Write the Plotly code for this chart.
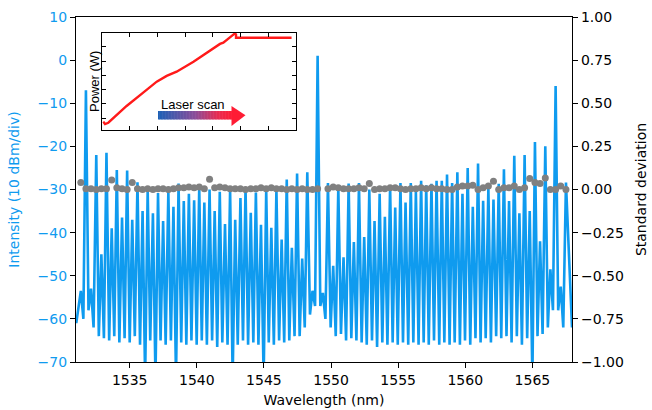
import plotly.graph_objects as go

# ---------------- data ----------------
# comb-line positions (nm) and peak intensities (dBm)
peak_nm = [
    1531.36, 1531.74, 1532.12, 1532.51, 1532.89, 1533.27, 1533.66, 1534.04, 1534.43, 1534.81,
    1535.19, 1535.58, 1535.96, 1536.34, 1536.73, 1537.11, 1537.49, 1537.88, 1538.26, 1538.64,
    1539.03, 1539.41, 1539.80, 1540.18, 1540.56, 1540.95, 1541.33, 1541.71, 1542.10, 1542.48,
    1542.86, 1543.25, 1543.63, 1544.02, 1544.40, 1544.78, 1545.17, 1545.55, 1545.93, 1546.32,
    1546.70, 1547.08, 1547.47, 1547.85, 1548.23, 1548.62, 1549.00, 1549.39, 1549.77, 1550.16,
    1550.54, 1550.93, 1551.31, 1551.70, 1552.08, 1552.47, 1552.85, 1553.24, 1553.62, 1554.01,
    1554.40, 1554.78, 1555.17, 1555.55, 1555.94, 1556.32, 1556.71, 1557.09, 1557.48, 1557.86,
    1558.25, 1558.64, 1559.02, 1559.41, 1559.79, 1560.18, 1560.56, 1560.95, 1561.33, 1561.72,
    1562.10, 1562.49, 1562.88, 1563.26, 1563.65, 1564.03, 1564.42, 1564.80, 1565.19, 1565.57,
    1565.96, 1566.34, 1566.73, 1567.11, 1567.50,
]
peak_db = [
    -53.5, -7.0, -53.0, -22.0, -45.0, -21.5, -39.0, -25.5, -36.5, -25.6,
    -37.0, -28.3, -35.0, -30.0, -35.5, -30.8, -37.3, -30.4, -34.0, -28.6,
    -32.7, -31.0, -32.5, -29.5, -33.0, -30.0, -35.0, -30.5, -38.0, -30.0,
    -37.0, -32.0, -29.6, -35.4, -30.7, -38.2, -30.0, -38.9, -30.0, -41.6,
    -27.7, -43.5, -26.3, -46.0, -26.0, -53.5, 1.0, -54.0, -28.5, -47.7,
    -29.5, -45.7, -28.6, -42.2, -28.5, -41.0, -30.0, -37.3, -31.0, -36.3,
    -29.0, -34.2, -28.5, -33.0, -28.5, -30.5, -28.0, -29.0, -28.7, -28.0,
    -28.0, -26.5, -28.5, -26.0, -31.0, -25.0, -34.0, -24.0, -32.6, -29.6,
    -32.3, -28.7, -25.3, -32.7, -22.2, -35.5, -22.0, -35.0, -19.0, -42.0,
    -20.0, -48.5, -6.0, -52.5, -28.4,
]
# floor between the lines (nm, dBm)
valley_nm = [
    1531.02,
    1531.55, 1531.93, 1532.31, 1532.70, 1533.08, 1533.47, 1533.85, 1534.23, 1534.62, 1535.00,
    1535.38, 1535.77, 1536.15, 1536.53, 1536.92, 1537.30, 1537.68, 1538.07, 1538.45, 1538.84,
    1539.22, 1539.60, 1539.99, 1540.37, 1540.75, 1541.14, 1541.52, 1541.90, 1542.29, 1542.67,
    1543.05, 1543.44, 1543.82, 1544.21, 1544.59, 1544.98, 1545.36, 1545.74, 1546.13, 1546.51,
    1546.89, 1547.28, 1547.66, 1548.04, 1548.43, 1548.81, 1549.20, 1549.58, 1549.97, 1550.35,
    1550.74, 1551.12, 1551.51, 1551.89, 1552.28, 1552.66, 1553.05, 1553.43, 1553.82, 1554.20,
    1554.59, 1554.97, 1555.36, 1555.75, 1556.13, 1556.52, 1556.90, 1557.28, 1557.67, 1558.06,
    1558.44, 1558.83, 1559.21, 1559.60, 1559.98, 1560.37, 1560.76, 1561.14, 1561.52, 1561.91,
    1562.30, 1562.68, 1563.07, 1563.45, 1563.84, 1564.22, 1564.61, 1565.00, 1565.38, 1565.76,
    1566.15, 1566.53, 1566.92, 1567.30,
    1567.95,
]
valley_db = [
    -61.0,
    -60.0, -58.0, -62.0, -64.0, -64.5, -65.0, -64.0, -65.5, -64.5, -65.5,
    -64.0, -66.0, -74.0, -65.0, -74.0, -65.0, -66.0, -65.0, -74.0, -65.5,
    -66.0, -65.0, -66.0, -65.0, -66.0, -65.0, -66.5, -65.5, -66.0, -74.0,
    -66.0, -65.0, -66.0, -65.5, -66.0, -74.0, -65.5, -66.0, -65.0, -65.5,
    -65.0, -64.0, -64.0, -62.0, -59.0, -57.0, -57.0, -60.0, -62.0, -64.0,
    -63.5, -65.0, -64.5, -65.0, -65.5, -66.0, -65.0, -66.5, -65.5, -66.0,
    -65.5, -66.0, -65.5, -66.0, -65.5, -66.0, -65.5, -66.0, -65.0, -66.0,
    -65.5, -66.0, -65.5, -66.0, -65.0, -66.0, -64.5, -65.5, -64.5, -65.5,
    -64.0, -64.5, -64.0, -65.5, -64.0, -66.0, -64.5, -74.0, -64.0, -63.5,
    -62.0, -58.0, -58.0, -62.0,
    -62.0,
]
# standard deviation of each comb line
std_val = [
    0.04, 0.005, 0.005, 0.0, 0.005, 0.005, 0.055, 0.01, 0.005, 0.0,
    0.04, 0.005, 0.0, 0.005, 0.0, 0.005, 0.005, 0.0, 0.005, 0.01,
    0.01, 0.015, 0.01, 0.015, 0.005, 0.06, 0.01, 0.015, 0.01, 0.005,
    0.005, 0.005, 0.0, 0.005, 0.005, 0.01, 0.005, 0.01, 0.005, 0.005,
    0.0, 0.005, 0.0, 0.005, 0.0, 0.0, 0.005, None, 0.005, 0.015,
    0.01, 0.005, 0.005, 0.005, 0.01, 0.005, 0.035, 0.0, 0.005, 0.005,
    0.01, 0.01, 0.005, 0.0, 0.005, 0.005, 0.01, 0.005, 0.01, 0.005,
    0.005, 0.0, 0.0, 0.015, 0.02, 0.02, 0.025, 0.0, 0.01, 0.02,
    0.048, 0.0, 0.01, 0.01, 0.02, 0.0, 0.01, 0.064, 0.04, 0.035,
    0.066, 0.0, 0.0, 0.02, 0.0,
]
# inset: power vs. laser scan (arbitrary units)
inset_scan = [0.035, 0.098, 0.217, 0.40, 0.88, 1.48, 1.97, 2.33, 2.69, 3.30, 3.90, 4.26, 4.38, 4.80, 4.84, 4.84, 6.85]
inset_power = [-0.25, -0.42, -0.33, -0.02, 0.85, 1.79, 2.56, 2.96, 3.26, 3.96, 4.78, 5.21, 5.30, 5.95, 5.88, 5.65, 5.65]

x_ticks = [1535, 1540, 1545, 1550, 1555, 1560, 1565]

# ---------------- build ----------------
BLUE = "#0f9bef"
GRAY = "#808080"
FONT = "DejaVu Sans"
FS = 14

spec_nm, spec_db = [], []
for k in range(len(peak_nm)):
    spec_nm += [valley_nm[k], peak_nm[k]]
    spec_db += [valley_db[k], peak_db[k]]
spec_nm.append(valley_nm[-1])
spec_db.append(valley_db[-1])

fig = go.Figure()
fig.add_trace(go.Scatter(x=spec_nm, y=spec_db, mode="lines",
                         line=dict(color=BLUE, width=2.6), xaxis="x", yaxis="y",
                         showlegend=False, hoverinfo="skip"))
fig.add_trace(go.Scatter(x=peak_nm, y=std_val, mode="markers",
                         marker=dict(color=GRAY, size=7), xaxis="x", yaxis="y2",
                         showlegend=False))
fig.add_trace(go.Scatter(x=inset_scan, y=inset_power, mode="lines",
                         line=dict(color="#ff1a1a", width=2.4), xaxis="x3", yaxis="y3",
                         showlegend=False))

# geometry in pixels
W, H = 652, 410
L, R, T, B = 76, 80, 17, 48
pw, ph = W - L - R, H - T - B


def px2paper_x(px):
    return (px - L) / pw


def px2paper_y(py):
    return (H - B - py) / ph


inset_x0, inset_x1 = 102.3, 295.7
inset_y0, inset_y1 = 32.7, 130.0

axis_common = dict(showgrid=False, zeroline=False, linecolor="black", linewidth=1.3,
                   ticks="outside", ticklen=5, tickwidth=1.2, tickcolor="black",
                   automargin=False)

fig.update_layout(
    width=W, height=H,
    margin=dict(l=L, r=R, t=T, b=B, autoexpand=False),
    paper_bgcolor="white", plot_bgcolor="white",
    font=dict(family=FONT, size=FS, color="black"),
    xaxis=dict(domain=[0, 1], range=[1531.0, 1567.95], tickvals=x_ticks,
               mirror=True, title=dict(text="Wavelength (nm)", standoff=8,
                                       font=dict(size=FS)), **axis_common),
    yaxis=dict(range=[-70, 10], dtick=10, tick0=0,
               tickfont=dict(color=BLUE),
               title=dict(text="Intensity (10 dBm/div)", font=dict(color=BLUE, size=FS),
                          standoff=14),
               **axis_common),
    yaxis2=dict(range=[-1, 1], dtick=0.25, tick0=0, tickformat=".2f", overlaying="y",
                side="right", anchor="x",
                title=dict(text="Standard deviation", standoff=13, font=dict(size=FS)),
                **axis_common),
    xaxis3=dict(domain=[px2paper_x(inset_x0), px2paper_x(inset_x1)], range=[0, 7],
                anchor="y3", tickvals=[1, 2, 3, 4, 5, 6], showticklabels=False,
                ticks="inside", ticklen=4, tickwidth=1, tickcolor="black",
                mirror="allticks", linecolor="black", linewidth=1.2,
                showgrid=False, zeroline=False, automargin=False),
    yaxis3=dict(domain=[px2paper_y(inset_y1), px2paper_y(inset_y0)], range=[-0.84, 6.0],
                anchor="x3", tickvals=[0, 1, 2, 3, 4, 5], showticklabels=False,
                ticks="inside", ticklen=4, tickwidth=1, tickcolor="black",
                mirror="allticks", linecolor="black", linewidth=1.2,
                showgrid=False, zeroline=False, automargin=False),
)

# inset labels
fig.add_annotation(text="Power (W)", xref="paper", yref="paper",
                   x=px2paper_x(94.5), y=px2paper_y(81.5), textangle=-90,
                   xanchor="center", yanchor="middle",
                   showarrow=False, font=dict(family="Liberation Sans", size=13, color="black"))
fig.add_annotation(text="Laser scan", xref="paper", yref="paper",
                   x=px2paper_x(193.3), y=px2paper_y(104.5),
                   xanchor="center", yanchor="middle",
                   showarrow=False, font=dict(family="Liberation Sans", size=13, color="black"))

# gradient arrow (decoration)
stops = [(0.0, (28, 96, 182)), (0.5, (140, 76, 152)), (0.8, (232, 44, 80)), (1.0, (255, 28, 52))]


def grad(t):
    for (t0, c0), (t1, c1) in zip(stops[:-1], stops[1:]):
        if t <= t1:
            f = (t - t0) / (t1 - t0)
            return "rgb(%d,%d,%d)" % tuple(round(a + (b - a) * f) for a, b in zip(c0, c1))
    return "rgb(%d,%d,%d)" % stops[-1][1]


bx0, bx1 = 158.0, 233.0
by0, by1 = 111.0, 119.5
nseg = 50
for s in range(nseg):
    xa = bx0 + (bx1 - bx0) * s / nseg
    xb = bx0 + (bx1 - bx0) * (s + 1) / nseg + 0.4
    fig.add_shape(type="rect", xref="paper", yref="paper",
                  x0=px2paper_x(xa), x1=px2paper_x(xb),
                  y0=px2paper_y(by1), y1=px2paper_y(by0),
                  line=dict(width=0), fillcolor=grad((s + 0.5) / nseg), layer="above")
hx0, htip = 231.5, 245.5
hy0, hy1, hmid = 106.0, 126.0, 115.25
fig.add_shape(type="path", xref="paper", yref="paper",
              path="M %f %f L %f %f L %f %f Z" % (
                  px2paper_x(hx0), px2paper_y(hy0),
                  px2paper_x(hx0), px2paper_y(hy1),
                  px2paper_x(htip), px2paper_y(hmid)),
              line=dict(width=0), fillcolor="rgb(255,28,52)", layer="above")

fig.write_html("out.html", config={"displayModeBar": False},
               post_script="document.body.style.margin='0';document.body.style.overflow='hidden';")
